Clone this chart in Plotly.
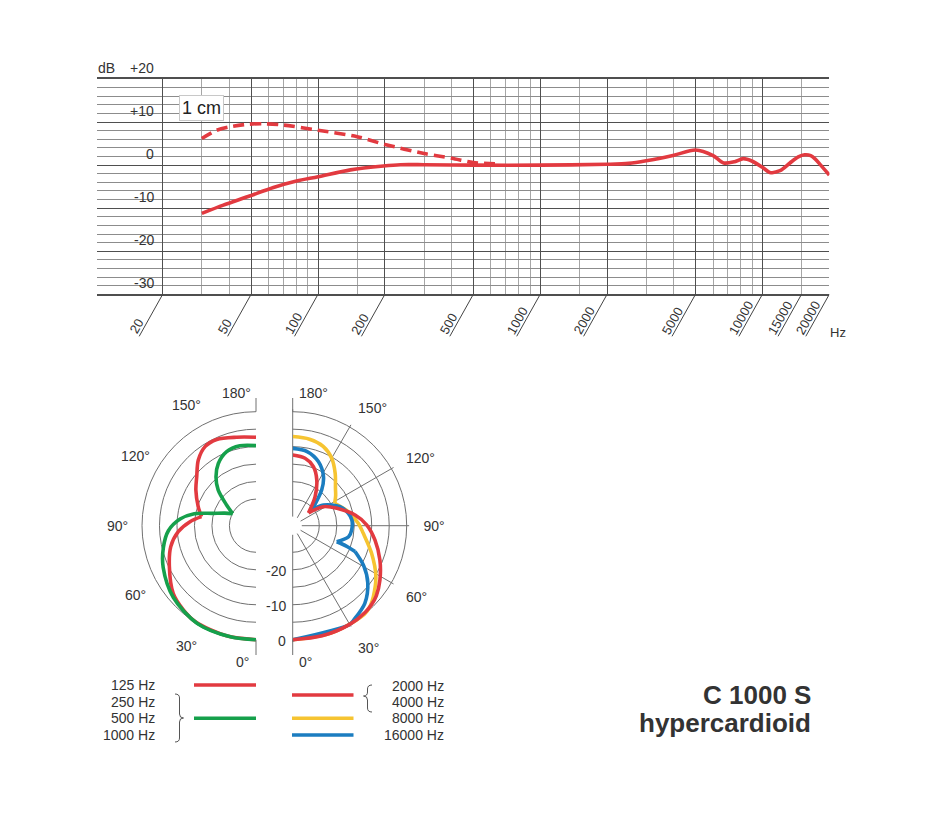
import math
import plotly.graph_objects as go

W, H = 945, 831

# ---------------- data ----------------
# frequency response (far field, solid) : Hz / dB
freq_far = [30, 37.5, 48.5, 63, 80, 100, 140, 197, 235, 300, 500, 1000, 2000, 2500, 3000,
            4000, 5000, 6000, 6700, 7500, 8200, 9000, 10000, 10800, 12000, 13300, 14500,
            15500, 16500, 17300, 18300, 20000]
db_far = [-11.2, -9.3, -7.3, -5.2, -3.7, -2.7, -1.1, -0.2, 0.1, 0.1, 0.0, 0.0, 0.2, 0.4, 1.0,
          2.3, 3.5, 2.2, 0.5, 0.8, 1.5, 0.9, -0.5, -1.7, -1.3, 0.5, 1.9,
          2.4, 2.2, 1.4, 0.0, -2.3]
# proximity effect at 1 cm (dashed)
freq_1cm = [30, 35, 40, 48.5, 57, 70, 100, 150, 200, 300, 400, 500, 640]
db_1cm = [6.2, 8.1, 8.9, 9.5, 9.6, 9.3, 8.1, 6.6, 4.8, 2.7, 1.6, 0.6, 0.3]

x_major = [20, 50, 100, 200, 500, 1000, 2000, 5000, 10000, 20000]
x_minor = [30, 40, 60, 70, 80, 90, 150, 300, 400, 600, 700, 800, 900, 1500,
           3000, 4000, 6000, 7000, 8000, 9000, 15000]
x_labels = [20, 50, 100, 200, 500, 1000, 2000, 5000, 10000, 15000, 20000]
y_labels = [10, 0, -10, -20, -30]

# polar patterns (angle in degrees, level in dB); None separates cusp segments
th_125 = [0, 15, 32, 40.8, 50.7, 64.7, 76.2, 85.6, 93.5, 99.4, None,
          99.4, 108.2, 120.7, 129.6, 138.7, 147.2, 155.5, 167.7, 180]
db_125 = [0, 0, -0.1, -0.8, -2.0, -5.2, -7.5, -10.3, -13.7, -16.8, None,
          -16.8, -15.2, -12.6, -10.6, -7.6, -5.7, -5.5, -6.7, -7.3]
th_250_1k = [0, 13, 31, 49, 65.8, 76.8, 86.7, 95, 101, 106, 112, 117.3, None,
             117.3, 125.2, 133.4, 140.8, 148.8, 158.4, 168.6, 180]
db_250_1k = [0, 0, 0, -1.3, -3.5, -5.4, -7.5, -10.8, -14.6, -19.8, -23.0, -25.1, None,
             -25.1, -22.3, -17.7, -14.5, -11.8, -9.8, -9.3, -9.7]
th_2k_4k = [0, 15, 30, 40, 45, 50, 58, 68.5, 80, 90.5, 99.7, 111.5, 121.8, 129, None,
            129, 142.4, 152.3, 160.7, 169.6, 180]
db_2k_4k = [0, 0, 0, -0.3, -0.7, -1.4, -3.2, -5.8, -8.7, -11.4, -14.5, -19, -22.3, -26.8, None,
            -26.8, -22.1, -17.8, -14.7, -13, -12.4]
th_8k = [0, 20, 39, 44, 48.7, 58.5, 70.7, 83.8, 92, 104, 118, None,
         118, 125, 131, 141, 150, 159, 169, 180]
db_8k = [0, 0, 0, -0.7, -1.9, -4.7, -8.7, -12.3, -13.8, -16.2, -19, None,
         -19, -17.6, -16.4, -13.3, -10.3, -8.3, -7.4, -7.1]
th_16k = [0, 30, 33, 42.9, 52.7, 60.4, 67.5, None,
          67.5, 69.2, 70, None,
          70, 78.8, 85.8, 95.5, 102.5, 112, 124, 130, None,
          130, 141, 148, 158, 169, 180]
db_16k = [0, 0, -0.5, -2.3, -5.6, -9.2, -13.3, None,
          -13.3, -16.2, -19.2, None,
          -19.2, -16.3, -15.7, -15.6, -16.3, -18, -22, -25.3, None,
          -25.3, -19.4, -16, -12.9, -11, -10.5]

angle_ticks = [0, 30, 60, 90, 120, 150, 180]
ring_ticks = [-30, -25, -20, -15, -10, -5, 0]
ring_labels = [-20, -10, 0]

# ---------------- styling ----------------
RED = '#e23a40'
GREEN = '#15a04b'
YELLOW = '#f6c431'
BLUE = '#1b7dc0'
TXT = '#333333'
FONT = 'Liberation Sans, Arial, sans-serif'
GMAJ = '#4f4f4f'
GMINX = '#a6a6a6'
GMINY = '#8c8c8c'
GPOL = '#707070'


def pxx(x):
    return x / W


def pyy(y):
    return 1 - y / H


# top chart geometry (pixels)
X_LEFT, X20, X20K = 97.3, 162.7, 829.3
Y_TOP, Y_BOT = 79.0, 294.3
DEC = (X20K - X20) / 3.0
EXTRA = 0.0008
x_range = [math.log10(20) - (X20 - X_LEFT) / DEC, math.log10(20000) + EXTRA]

fig = go.Figure()

fig.add_trace(go.Scatter(x=freq_far, y=db_far, mode='lines',
                         line=dict(color=RED, width=3.6, shape='spline', smoothing=0.8),
                         hoverinfo='skip', showlegend=False))
fig.add_trace(go.Scatter(x=freq_1cm, y=db_1cm, mode='lines',
                         line=dict(color=RED, width=3.6, dash='11px,6px', shape='spline', smoothing=0.8),
                         hoverinfo='skip', showlegend=False))


def ptrace(theta, r, color, sub):
    return go.Scatterpolar(theta=theta, r=r, mode='lines', subplot=sub,
                           line=dict(color=color, width=3.6, shape='spline', smoothing=0.9),
                           connectgaps=False, cliponaxis=False,
                           hoverinfo='skip', showlegend=False)


fig.add_trace(ptrace(th_125, db_125, RED, 'polar'))
fig.add_trace(ptrace(th_250_1k, db_250_1k, GREEN, 'polar'))
fig.add_trace(ptrace(th_8k, db_8k, YELLOW, 'polar2'))
fig.add_trace(ptrace(th_16k, db_16k, BLUE, 'polar2'))
fig.add_trace(ptrace(th_2k_4k, db_2k_4k, RED, 'polar2'))

# polar geometry: 0 dB ring at R0 px, -30 dB at hole edge, range padded so 0 dB lines are not clipped
R0 = 114.0
R_HOLE = 9.1
PAD_DB = 0.7
PX_PER_DB = (R0 - R_HOLE) / 30.0
R_OUT = R0 + PAD_DB * PX_PER_DB
HOLE = R_HOLE / R_OUT
CY = 525.7
CX_L, CX_R = 256.0, 292.7
pol_y = [pyy(CY + R_OUT), pyy(CY - R_OUT)]
R_LABEL = 139.0


def polar_layout(domain_x, sector, direction, rotation, show_angle_labels):
    ang_text = ['' if a in (0, 180) else f'{a}°' for a in angle_ticks]
    return dict(
        domain=dict(x=domain_x, y=pol_y),
        sector=sector, hole=HOLE, bgcolor='white',
        angularaxis=dict(rotation=rotation, direction=direction,
                         tickmode='array', tickvals=angle_ticks, ticktext=ang_text,
                         showline=False, showticklabels=show_angle_labels,
                         gridcolor=GPOL, gridwidth=0.8,
                         ticks='outside', ticklen=11, tickcolor='rgba(0,0,0,0)',
                         tickfont=dict(size=14, color=TXT, family=FONT)),
        radialaxis=dict(range=[-30, PAD_DB], tickmode='array', tickvals=ring_ticks,
                        showline=False, ticks='', gridcolor=GPOL, gridwidth=0.9,
                        showticklabels=False),
    )


shapes = []
annotations = []

# vertical line extensions of polar halves
for cx in (CX_L, CX_R):
    for (ya, yb) in ((398, CY - R0), (CY + R0, 655)):
        shapes.append(dict(type='line', xref='paper', yref='paper',
                           x0=pxx(cx), x1=pxx(cx), y0=pyy(ya), y1=pyy(yb),
                           line=dict(color=GPOL, width=1)))

# angle labels of the left half (mirrored side)
for a in angle_ticks[1:-1]:
    ax_ = CX_L - R_LABEL * math.sin(math.radians(a))
    ay_ = CY + R_LABEL * math.cos(math.radians(a))
    annotations.append(dict(text=f'{a}°', xref='paper', yref='paper', x=pxx(ax_), y=pyy(ay_),
                            xanchor='center', yanchor='middle', showarrow=False,
                            font=dict(size=14, color=TXT, family=FONT)))

# radial level labels between the halves
for v in ring_labels:
    ypx = CY + R_HOLE + (v + 30) * PX_PER_DB
    annotations.append(dict(text=str(v), xref='paper', yref='paper', x=pxx(288), y=pyy(ypx + 1),
                            xanchor='right', yanchor='middle', showarrow=False,
                            font=dict(size=14, color=TXT, family=FONT)))

# x-axis leader lines and labels
LDX, LDY = -23.5, 42.0
ANG = math.radians(60.8)
DOM_H = Y_BOT - Y_TOP
for f in x_labels:
    shapes.append(dict(type='line', xref='x', yref='y domain',
                       x0=f, x1=f * 10 ** (LDX / DEC), y0=0, y1=-LDY / DOM_H,
                       line=dict(color='#444444', width=1)))
    L = 7.0 * len(str(f))
    d = 7.0
    cxo = LDX + (L / 2) * math.cos(ANG) - d * math.sin(ANG)
    cyo = LDY - (L / 2) * math.sin(ANG) - d * math.cos(ANG)
    annotations.append(dict(text=str(f), xref='x', yref='y domain', x=math.log10(f), y=0,
                            xanchor='center', yanchor='middle', showarrow=False,
                            textangle=-60.8, xshift=cxo, yshift=-cyo,
                            font=dict(size=13, color=TXT, family=FONT)))
annotations.append(dict(text='Hz', xref='paper', yref='paper', x=pxx(838), y=pyy(333),
                        xanchor='center', yanchor='middle', showarrow=False,
                        font=dict(size=13, color=TXT, family=FONT)))

# y labels of response chart
for v in y_labels:
    annotations.append(dict(text=('+%d' % v) if v > 0 else str(v), xref='paper', yref='y',
                            x=pxx(156), y=v, xanchor='right', yanchor='bottom', yshift=1,
                            showarrow=False, font=dict(size=14, color=TXT, family=FONT)))
annotations.append(dict(text='+20', xref='paper', yref='y', x=pxx(156), y=20,
                        xanchor='right', yanchor='bottom', yshift=1, showarrow=False,
                        font=dict(size=14, color=TXT, family=FONT)))
annotations.append(dict(text='dB', xref='paper', yref='y', x=pxx(96), y=20,
                        xanchor='left', yanchor='bottom', yshift=1, showarrow=False,
                        font=dict(size=14, color=TXT, family=FONT)))
annotations.append(dict(text='1 cm', xref='paper', yref='y', x=pxx(179), y=13.3,
                        xanchor='left', yanchor='middle', showarrow=False,
                        bgcolor='white', bordercolor='#c8c8c8', borderwidth=1, borderpad=2,
                        font=dict(size=18, color='#222222', family=FONT)))

# 0° / 180° labels beside the vertical lines
for txt, x, y in (('180°', 236, 393), ('0°', 243, 662), ('180°', 313, 393), ('0°', 305, 662)):
    annotations.append(dict(text=txt, xref='paper', yref='paper', x=pxx(x), y=pyy(y),
                            xanchor='center', yanchor='middle', showarrow=False,
                            font=dict(size=14, color=TXT, family=FONT)))

# legend
leg_left = [('125 Hz', 685), ('250 Hz', 701.7), ('500 Hz', 718.3), ('1000 Hz', 735)]
leg_right = [('2000 Hz', 685.7), ('4000 Hz', 701.7), ('8000 Hz', 718.3), ('16000 Hz', 735)]
for t, y in leg_left:
    annotations.append(dict(text=t, xref='paper', yref='paper', x=pxx(157), y=pyy(y),
                            xanchor='right', yanchor='middle', showarrow=False,
                            font=dict(size=14, color=TXT, family=FONT)))
for t, y in leg_right:
    annotations.append(dict(text=t, xref='paper', yref='paper', x=pxx(446), y=pyy(y),
                            xanchor='right', yanchor='middle', showarrow=False,
                            font=dict(size=14, color=TXT, family=FONT)))
for col, x0, x1, y in ((RED, 194, 256, 685), (GREEN, 194, 256, 718.3),
                       (RED, 292, 353.5, 695), (YELLOW, 292, 353.5, 718.3), (BLUE, 292, 353.5, 735)):
    shapes.append(dict(type='line', xref='paper', yref='paper', x0=pxx(x0), x1=pxx(x1),
                       y0=pyy(y), y1=pyy(y), line=dict(color=col, width=3.6)))


def brace(x_end, x_mid, x_tip, y0, ym, y1):
    pts = ['M', (x_end, y0), 'Q', (x_mid, y0), (x_mid, y0 + 4), 'L', (x_mid, ym - 4),
           'Q', (x_mid, ym), (x_tip, ym), 'Q', (x_mid, ym), (x_mid, ym + 4),
           'L', (x_mid, y1 - 4), 'Q', (x_mid, y1), (x_end, y1)]
    out = []
    for p in pts:
        out.append(p if isinstance(p, str) else '%.5f,%.5f' % (pxx(p[0]), pyy(p[1])))
    return ' '.join(out)


shapes.append(dict(type='path', xref='paper', yref='paper', path=brace(175, 179.5, 183.5, 694, 718, 742),
                   line=dict(color='#555555', width=1)))
shapes.append(dict(type='path', xref='paper', yref='paper', path=brace(372, 367.5, 363.5, 685, 696, 712),
                   line=dict(color='#555555', width=1)))

# title
annotations.append(dict(text='<b>C 1000 S</b>', xref='paper', yref='paper', x=pxx(813), y=pyy(695),
                        xanchor='right', yanchor='middle', showarrow=False,
                        font=dict(size=26, color=TXT, family=FONT)))
annotations.append(dict(text='<b>hypercardioid</b>', xref='paper', yref='paper', x=pxx(813), y=pyy(723),
                        xanchor='right', yanchor='middle', showarrow=False,
                        font=dict(size=26, color=TXT, family=FONT)))

fig.update_layout(
    width=W, height=H, margin=dict(l=0, r=0, t=0, b=0),
    paper_bgcolor='white', plot_bgcolor='white',
    font=dict(family=FONT, color=TXT),
    showlegend=False,
    xaxis=dict(type='log', range=x_range,
               domain=[pxx(X_LEFT), pxx(X20K + EXTRA * DEC)],
               tickmode='array', tickvals=x_major, showticklabels=False, ticks='',
               showgrid=True, gridcolor=GMAJ, gridwidth=1.3,
               showline=True, mirror=True, linecolor=GMAJ, linewidth=1.5, zeroline=False,
               minor=dict(tickmode='array', tickvals=x_minor, showgrid=True,
                          gridcolor=GMINX, gridwidth=1, ticks=''),
               fixedrange=True),
    yaxis=dict(range=[-30, 20], domain=[pyy(Y_BOT), pyy(Y_TOP)],
               tickmode='array', tickvals=[-20, -10, 0, 10], showticklabels=False, ticks='',
               showgrid=True, gridcolor=GMAJ, gridwidth=1.3, zeroline=False, showline=False,
               minor=dict(tickmode='linear', tick0=0, dtick=2, showgrid=True,
                          gridcolor=GMINY, gridwidth=0.9, ticks=''),
               fixedrange=True),
    polar=polar_layout([pxx(CX_L - R_OUT), pxx(CX_L)], [90, 270], 'clockwise', 270, False),
    polar2=polar_layout([pxx(CX_R), pxx(CX_R + R_OUT)], [-90, 90], 'counterclockwise', -90, True),
    shapes=shapes,
    annotations=annotations,
)

fig.write_html('out.html')
